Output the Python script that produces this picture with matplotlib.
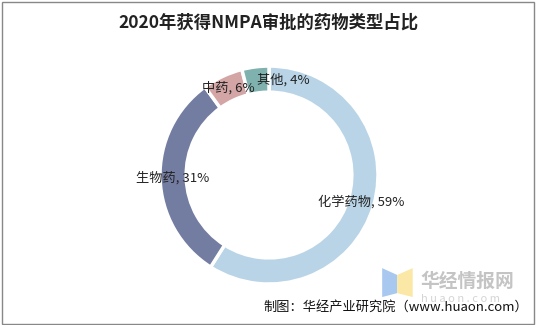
import matplotlib.pyplot as plt
from matplotlib.patches import Rectangle, Polygon

plt.rcParams['font.family'] = ['Noto Sans CJK SC', 'DejaVu Sans']

# data
categories = ['化学药物', '生物药', '中药', '其他']
shares = [59, 31, 6, 4]
colors = ['#b8d4e6', '#737ca1', '#d3a5a5', '#7fb1ae']

fig = plt.figure(figsize=(5.36, 3.25), dpi=100)

# outer border
fig.patches.append(Rectangle((0.003, 0.004), 0.993, 0.99, transform=fig.transFigure,
                             fill=False, edgecolor='#888888', linewidth=1))

fig.text(0.5, 0.932, '2020年获得NMPA审批的药物类型占比', ha='center', va='center',
         fontsize=12.5, fontweight='bold', color='#222222')

ax = fig.add_axes([0.2985, 0.126, 0.4067, 0.6708])
labels = [f'{c}, {v}%' for c, v in zip(categories, shares)]
wedges, texts = ax.pie(shares, colors=colors, startangle=90, counterclock=False,
                       labels=labels, labeldistance=0.88,
                       wedgeprops=dict(width=0.24, edgecolor='white', linewidth=2.5),
                       textprops=dict(fontsize=9.5, color='#222222'))
for t in texts:
    t.set_ha('center')
texts[3].set_ha('left')
ax.set_xlim(-1, 1)
ax.set_ylim(-1, 1)
ax.set_aspect('equal')

# watermark
fig.patches.append(Polygon([[0.713, 0.086], [0.741, 0.098], [0.741, 0.154], [0.713, 0.175]],
                           closed=True, transform=fig.transFigure, facecolor='#a9c8f0',
                           edgecolor='none'))
fig.patches.append(Polygon([[0.741, 0.098], [0.770, 0.086], [0.770, 0.175], [0.741, 0.154]],
                           closed=True, transform=fig.transFigure, facecolor='#fbe8a6',
                           edgecolor='none'))
fig.text(0.784, 0.135, '华经情报网', fontsize=13.5, fontweight='bold', color='#c4c4c4',
         ha='left', va='center')
fig.text(0.786, 0.08, 'h u a o n . c o m', fontsize=8, color='#d4d4d4',
         ha='left', va='center')

fig.text(0.985, 0.055, '制图：华经产业研究院（www.huaon.com）', fontsize=9.5,
         color='#111111', ha='right', va='center')

fig.savefig('out.png', dpi=100)
